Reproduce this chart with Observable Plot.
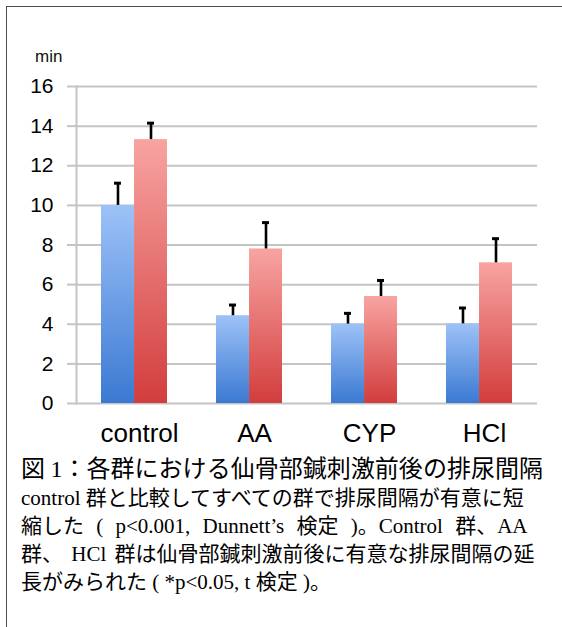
<!DOCTYPE html>
<html>
<head>
<meta charset="utf-8">
<script src="https://cdn.jsdelivr.net/npm/d3@7"></script>
<script src="https://cdn.jsdelivr.net/npm/@observablehq/plot@0.6"></script>
<style>
  html, body { margin: 0; padding: 0; background: #fff; }
  body { width: 562px; height: 627px; position: relative; overflow: hidden; }
  #border { position: absolute; left: 6px; top: 6px; width: 600px; height: 700px;
            border-left: 1.5px solid #4d4d4d; border-top: 1.5px solid #4d4d4d; }
  #chart { position: absolute; left: 0; top: 0; }
  #unit { position: absolute; left: 35px; top: 47px; font: 17px "Liberation Sans", Arial, sans-serif; color: #111; }
  #caption { position: absolute; left: 21px; top: 452px; width: 522px;
             font-family: "Liberation Serif", "Noto Sans CJK JP", serif; color: #000; }
  #caption .l1 { font-size: 24px; line-height: 29px; white-space: nowrap; text-align: justify; text-align-last: justify; font-family: "Noto Sans CJK JP", sans-serif; }
  #caption .ln { font-size: 21px; line-height: 28px; white-space: pre; text-align: left; }
  #caption .w3 { word-spacing: 7px; }
  #caption .w4 { word-spacing: 3px; }
  .lat { font-family: "Liberation Serif", serif; }
</style>
</head>
<body>
<div id="border"></div>
<div id="chart"></div>
<div id="unit">min</div>
<div id="caption">
  <div class="l1">図 <span class="lat">1</span>：各群における仙骨部鍼刺激前後の排尿間隔</div>
  <div class="ln">control 群と比較してすべての群で排尿間隔が有意に短</div>
  <div class="ln w3">縮した ( p&lt;0.001, Dunnett’s 検定 )。Control 群、AA</div>
  <div class="ln w4">群、 HCl 群は仙骨部鍼刺激前後に有意な排尿間隔の延</div>
  <div class="ln">長がみられた ( *p&lt;0.05, t 検定 )。</div>
</div>
<script>
// ---- data ----
const categories = ["control", "AA", "CYP", "HCl"];
const before = [10.0, 4.43, 4.01, 4.02];
const after = [13.32, 7.8, 5.4, 7.1];
const beforeErr = [1.12, 0.54, 0.54, 0.8];
const afterErr = [0.83, 1.33, 0.81, 1.22];
const yTicks = [0, 2, 4, 6, 8, 10, 12, 14, 16];

const rows = categories.map((c, i) => ({
  category: c,
  before: before[i], beforeTop: before[i] + beforeErr[i],
  after: after[i], afterTop: after[i] + afterErr[i]
}));

// ---- layout ----
const W = 562, H = 450;
const mL = 76, mR = 25, mT = 86, mB = 47;
const pIn = 0.427, pOut = 0.2135;
const step = (W - mL - mR) / (categories.length - pIn + 2 * pOut);
const bw = step * (1 - pIn);
const half = bw / 2;
const capW = 7;
const grid = "#c4c4c4";

const svg = Plot.plot({
  width: W, height: H,
  marginLeft: mL, marginRight: mR, marginTop: mT, marginBottom: mB,
  style: { fontFamily: "'Liberation Sans', Arial, sans-serif", color: "#111", background: "transparent" },
  x: { domain: categories, paddingInner: pIn, paddingOuter: pOut, label: null },
  y: { domain: [0, 16], ticks: yTicks, label: null },
  marks: [
    Plot.gridY(yTicks, { stroke: grid, strokeOpacity: 1, strokeWidth: 2 }),
    Plot.frame({ anchor: "left", stroke: grid, strokeOpacity: 1, strokeWidth: 2 }),
    Plot.barY(rows, { x: "category", y: "before", fill: "url(#gBlue)", insetRight: half }),
    Plot.barY(rows, { x: "category", y: "after", fill: "url(#gRed)", insetLeft: half }),
    Plot.ruleX(rows, { x: "category", y1: "before", y2: "beforeTop", dx: -half / 2, stroke: "#000", strokeWidth: 2.6 }),
    Plot.ruleX(rows, { x: "category", y1: "after", y2: "afterTop", dx: half / 2, stroke: "#000", strokeWidth: 2.6 }),
    Plot.tickY(rows, { x: "category", y: "beforeTop", stroke: "#000", strokeWidth: 3,
      insetLeft: half / 2 - capW / 2, insetRight: bw - half / 2 - capW / 2 }),
    Plot.tickY(rows, { x: "category", y: "afterTop", stroke: "#000", strokeWidth: 3,
      insetLeft: bw - half / 2 - capW / 2, insetRight: half / 2 - capW / 2 }),
    Plot.axisY(yTicks, { tickSize: 9, tickPadding: 14, stroke: grid, strokeWidth: 2, fill: "#000", fontSize: 21, label: null }),
    Plot.axisX({ tickSize: 0, tickPadding: 20, fontSize: 26, fill: "#000", dx: 5, label: null })
  ]
});

const defs = d3.select(svg).insert("defs", ":first-child");
function grad(id, top, bottom) {
  const g = defs.append("linearGradient").attr("id", id)
    .attr("x1", 0).attr("y1", 0).attr("x2", 0).attr("y2", 1);
  g.append("stop").attr("offset", "0%").attr("stop-color", top);
  g.append("stop").attr("offset", "100%").attr("stop-color", bottom);
}
grad("gBlue", "#9dc2f7", "#3b79d2");
grad("gRed", "#f8a4a1", "#d23d3d");

document.getElementById("chart").appendChild(svg);
</script>
</body>
</html>
